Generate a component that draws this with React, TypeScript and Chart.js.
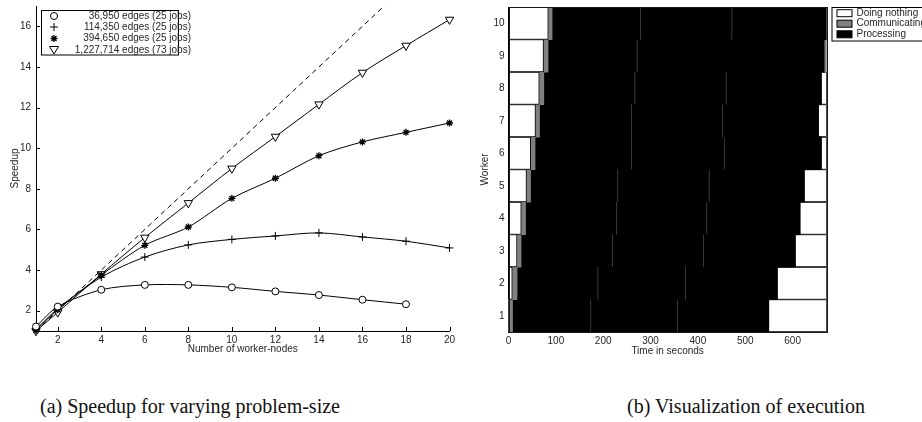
import React, { useEffect, useRef } from 'react';
import { Chart, registerables } from 'chart.js';

Chart.register(...registerables);

// ---------- Panel (a): speedup ----------
const NODES = [1, 2, 4, 6, 8, 10, 12, 14, 16, 18, 20];
const SPEEDUP_36950 = [1.22, 2.2, 3.03, 3.27, 3.27, 3.15, 2.95, 2.77, 2.54, 2.32];
const SPEEDUP_114350 = [1.08, 2.1, 3.65, 4.64, 5.24, 5.51, 5.68, 5.83, 5.63, 5.42, 5.09];
const SPEEDUP_394650 = [1.04, 2.05, 3.75, 5.22, 6.12, 7.53, 8.52, 9.63, 10.31, 10.78, 11.24];
const SPEEDUP_1227714 = [1.0, 1.92, 3.8, 5.6, 7.3, 9.0, 10.57, 12.16, 13.72, 15.05, 16.33];
const SERIES_LABELS = [
  '36,950 edges (25 jobs)',
  '114,350 edges (25 jobs)',
  '394,650 edges (25 jobs)',
  '1,227,714 edges (73 jobs)',
];
const SERIES_MARKERS = ['circle', 'cross', 'star', 'triangleDown'];
const IDEAL_X = [1, 20];
const NODE_TICKS = [2, 4, 6, 8, 10, 12, 14, 16, 18, 20];
const SPEEDUP_TICKS = [2, 4, 6, 8, 10, 12, 14, 16];

// ---------- Panel (b): execution timeline ----------
const WORKERS = ['1', '2', '3', '4', '5', '6', '7', '8', '9', '10'];
const IDLE_END = [0, 8, 18, 27, 38, 47, 57, 65, 74, 84];
const COMM_END = [8, 17.5, 26, 35.5, 46, 55.5, 65, 74, 83, 91.5];
const SYNC_1 = [173, 188, 219, 227, 230, 259, 259, 266, 271, 278];
const SYNC_2 = [356, 373, 411, 418, 423, 455, 451, 459, null, 471];
const PROC_END = [549, 567, 605, 615, 624, 660, 654, 660, 666, 672];
const FINAL_COMM_END = [null, null, null, null, null, null, null, null, 672, null];
const TOTAL_TIME = 672;
const SYNC_WIDTH = 1.5;
const TIME_TICKS = [0, 100, 200, 300, 400, 500, 600];
const STATE_LABELS = ['Doing nothing', 'Communicating', 'Processing'];
const STATE_COLORS = ['#ffffff', '#808080', '#000000'];
const SYNC_COLOR = '#505050';

const FONT = { family: '"Liberation Sans", Arial, sans-serif', size: 10 };
const TEXT_COLOR = '#262626';

function drawMarker(ctx: CanvasRenderingContext2D, style: string, x: number, y: number) {
  ctx.save();
  ctx.strokeStyle = '#000';
  ctx.fillStyle = '#fff';
  ctx.lineWidth = 1;
  ctx.beginPath();
  if (style === 'circle') {
    ctx.arc(x, y, 3.5, 0, Math.PI * 2);
    ctx.fill();
    ctx.stroke();
  } else if (style === 'cross') {
    ctx.moveTo(x - 4, y); ctx.lineTo(x + 4, y);
    ctx.moveTo(x, y - 4); ctx.lineTo(x, y + 4);
    ctx.stroke();
  } else if (style === 'star') {
    const r = 3.5;
    for (let k = 0; k < 4; k++) {
      const a = (k * Math.PI) / 4;
      ctx.moveTo(x - r * Math.cos(a), y - r * Math.sin(a));
      ctx.lineTo(x + r * Math.cos(a), y + r * Math.sin(a));
    }
    ctx.lineWidth = 1.3;
    ctx.stroke();
  } else {
    ctx.moveTo(x - 4.5, y - 3.5);
    ctx.lineTo(x + 4.5, y - 3.5);
    ctx.lineTo(x, y + 4);
    ctx.closePath();
    ctx.fill();
    ctx.stroke();
  }
  ctx.restore();
}

const insideTicksPlugin = {
  id: 'insideTicks',
  afterDatasetsDraw(chart: any) {
    const { ctx, chartArea, scales } = chart;
    ctx.save();
    ctx.strokeStyle = '#000';
    ctx.lineWidth = 1;
    ctx.beginPath();
    for (const v of SPEEDUP_TICKS) {
      const y = Math.round(scales.y.getPixelForValue(v)) + 0.5;
      ctx.moveTo(chartArea.left, y);
      ctx.lineTo(chartArea.left + 4, y);
    }
    for (const v of NODE_TICKS) {
      const x = Math.round(scales.x.getPixelForValue(v)) + 0.5;
      ctx.moveTo(x, chartArea.bottom);
      ctx.lineTo(x, chartArea.bottom - 4);
    }
    ctx.stroke();
    ctx.restore();
  },
};

const legendAPlugin = {
  id: 'legendA',
  afterDraw(chart: any) {
    const { ctx } = chart;
    ctx.save();
    ctx.fillStyle = '#fff';
    ctx.fillRect(41.5, 10.5, 137, 44.5);
    ctx.strokeStyle = '#000';
    ctx.lineWidth = 1;
    ctx.strokeRect(41.5, 10.5, 137, 44.5);
    const rows = [16, 27, 38.5, 50];
    ctx.font = `10px ${FONT.family}`;
    ctx.textAlign = 'right';
    ctx.textBaseline = 'middle';
    SERIES_LABELS.forEach((label, i) => {
      drawMarker(ctx, SERIES_MARKERS[i], 54, rows[i]);
      ctx.fillStyle = TEXT_COLOR;
      ctx.fillText(label, 191, rows[i]);
    });
    ctx.restore();
  },
};

const frameBPlugin = {
  id: 'frameB',
  afterDatasetsDraw(chart: any) {
    const { ctx, chartArea } = chart;
    ctx.save();
    ctx.strokeStyle = '#1a1a1a';
    ctx.lineWidth = 1;
    ctx.strokeRect(
      Math.round(chartArea.left) + 0.5,
      Math.round(chartArea.top) + 0.5,
      Math.round(chartArea.right - chartArea.left),
      Math.round(chartArea.bottom - chartArea.top)
    );
    ctx.restore();
  },
};

const legendBPlugin = {
  id: 'legendB',
  afterDraw(chart: any) {
    const { ctx } = chart;
    ctx.save();
    ctx.fillStyle = '#fff';
    ctx.fillRect(372, 7.5, 120, 33.5);
    ctx.strokeStyle = '#000';
    ctx.lineWidth = 1;
    ctx.strokeRect(372, 7.5, 120, 33.5);
    const rows = [13.2, 23.7, 34.3];
    ctx.font = `10px ${FONT.family}`;
    ctx.textAlign = 'left';
    ctx.textBaseline = 'middle';
    STATE_LABELS.forEach((label, i) => {
      ctx.fillStyle = STATE_COLORS[i];
      ctx.fillRect(377, rows[i] - 3.5, 15, 7);
      ctx.strokeStyle = '#000';
      ctx.strokeRect(377, rows[i] - 3.5, 15, 7);
      ctx.fillStyle = TEXT_COLOR;
      ctx.fillText(label, 396.5, rows[i]);
    });
    ctx.restore();
  },
};

function SpeedupChart() {
  const ref = useRef<HTMLCanvasElement | null>(null);
  useEffect(() => {
    if (!ref.current) return;
    const series = [SPEEDUP_36950, SPEEDUP_114350, SPEEDUP_394650, SPEEDUP_1227714];
    const styleMap: any = {
      circle: { pointStyle: 'circle', radius: 3.5, rotation: 0 },
      cross: { pointStyle: 'cross', radius: 4, rotation: 0 },
      star: { pointStyle: 'star', radius: 3.5, rotation: 0 },
      triangleDown: { pointStyle: 'triangle', radius: 4.8, rotation: 180 },
    };
    const datasets: any[] = [
      {
        label: 'ideal',
        data: IDEAL_X.map((x) => ({ x, y: x })),
        borderColor: '#000',
        borderWidth: 1,
        borderDash: [5, 4],
        pointRadius: 0,
        tension: 0,
      },
      ...series.map((vals, i) => {
        const st = styleMap[SERIES_MARKERS[i]];
        return {
          label: SERIES_LABELS[i],
          data: vals.map((v, j) => ({ x: NODES[j], y: v })),
          borderColor: '#000',
          borderWidth: 1,
          tension: 0.3,
          pointStyle: st.pointStyle,
          pointRadius: st.radius,
          pointRotation: st.rotation,
          pointBackgroundColor: '#fff',
          pointBorderColor: '#000',
          pointBorderWidth: SERIES_MARKERS[i] === 'star' ? 1.3 : 1,
          clip: false,
        };
      }),
    ];
    const chart = new Chart(ref.current, {
      type: 'line',
      data: { datasets },
      plugins: [insideTicksPlugin, legendAPlugin],
      options: {
        responsive: false,
        animation: false,
        devicePixelRatio: 1,
        layout: { padding: { left: 0, top: 6, right: 10.5, bottom: 0 } },
        plugins: { legend: { display: false }, tooltip: { enabled: false } },
        scales: {
          x: {
            type: 'linear',
            min: 1,
            max: 20,
            afterBuildTicks: (ax: any) => { ax.ticks = NODE_TICKS.map((v) => ({ value: v })); },
            afterFit: (ax: any) => { ax.height = 29; ax.paddingLeft = 0; ax.paddingRight = 0; },
            grid: { display: false, drawTicks: false },
            border: { display: true, color: '#000', width: 1 },
            ticks: { font: FONT, color: TEXT_COLOR, padding: 3, maxRotation: 0, autoSkip: false },
            title: { display: true, text: 'Number of worker-nodes', font: FONT, color: TEXT_COLOR, padding: { top: 0, bottom: 5 } },
          },
          y: {
            type: 'linear',
            min: 1,
            max: 17,
            afterBuildTicks: (ax: any) => { ax.ticks = SPEEDUP_TICKS.map((v) => ({ value: v })); },
            afterFit: (ax: any) => { ax.width = 36; ax.paddingTop = 0; ax.paddingBottom = 0; },
            grid: { display: false, drawTicks: false },
            border: { display: true, color: '#000', width: 1 },
            ticks: { font: FONT, color: TEXT_COLOR, padding: 5, autoSkip: false },
            title: { display: true, text: 'Speedup', font: FONT, color: TEXT_COLOR, padding: { top: 9, bottom: 0 } },
          },
        },
      } as any,
    });
    return () => chart.destroy();
  }, []);
  return <canvas ref={ref} width={460} height={360} style={{ width: 460, height: 360, display: 'block' }} />;
}

function ExecutionChart() {
  const ref = useRef<HTMLCanvasElement | null>(null);
  useEffect(() => {
    if (!ref.current) return;
    const base = {
      grouped: false,
      barPercentage: 1,
      categoryPercentage: 1,
      borderSkipped: false,
    };
    const datasets: any[] = [
      {
        ...base,
        label: 'sync1',
        data: SYNC_1.map((s) => (s == null ? null : [s, s + SYNC_WIDTH])),
        backgroundColor: SYNC_COLOR,
        borderWidth: 0,
        inflateAmount: 0,
      },
      {
        ...base,
        label: 'sync2',
        data: SYNC_2.map((s) => (s == null ? null : [s, s + SYNC_WIDTH])),
        backgroundColor: SYNC_COLOR,
        borderWidth: 0,
        inflateAmount: 0,
      },
      {
        ...base,
        label: STATE_LABELS[0],
        data: IDLE_END.map((e) => (e > 0 ? [0, e] : null)),
        backgroundColor: STATE_COLORS[0],
        borderColor: '#000',
        borderWidth: 1,
        inflateAmount: 0.3,
      },
      {
        ...base,
        label: STATE_LABELS[1],
        data: COMM_END.map((e, i) => [IDLE_END[i], e]),
        backgroundColor: STATE_COLORS[1],
        borderWidth: 0,
        inflateAmount: 0.6,
      },
      {
        ...base,
        label: STATE_LABELS[2],
        data: PROC_END.map((e, i) => [COMM_END[i], e]),
        backgroundColor: STATE_COLORS[2],
        borderWidth: 0,
        inflateAmount: 0.6,
      },
      {
        ...base,
        label: 'final comm',
        data: FINAL_COMM_END.map((e, i) => (e == null ? null : [PROC_END[i], e])),
        backgroundColor: STATE_COLORS[1],
        borderWidth: 0,
        inflateAmount: 0.6,
      },
      {
        ...base,
        label: 'final idle',
        data: PROC_END.map((s, i) => (FINAL_COMM_END[i] == null && s < TOTAL_TIME ? [s, TOTAL_TIME] : null)),
        backgroundColor: STATE_COLORS[0],
        borderColor: '#000',
        borderWidth: 1,
        inflateAmount: 0.3,
      },
    ];
    const chart = new Chart(ref.current, {
      type: 'bar',
      data: { labels: WORKERS, datasets },
      plugins: [frameBPlugin, legendBPlugin],
      options: {
        indexAxis: 'y',
        responsive: false,
        animation: false,
        devicePixelRatio: 1,
        layout: { padding: { left: 0, top: 7, right: 95.3, bottom: 0 } },
        plugins: { legend: { display: false }, tooltip: { enabled: false } },
        scales: {
          x: {
            type: 'linear',
            min: 0,
            max: TOTAL_TIME,
            afterBuildTicks: (ax: any) => { ax.ticks = TIME_TICKS.map((v) => ({ value: v })); },
            afterFit: (ax: any) => { ax.height = 28; ax.paddingLeft = 0; ax.paddingRight = 0; },
            grid: { display: false, drawTicks: false },
            border: { display: true, color: '#000', width: 1 },
            ticks: { font: FONT, color: TEXT_COLOR, padding: 3, maxRotation: 0, autoSkip: false },
            title: { display: true, text: 'Time in seconds', font: FONT, color: TEXT_COLOR, padding: { top: 0, bottom: 3 } },
          },
          y: {
            type: 'category',
            reverse: true,
            afterFit: (ax: any) => { ax.width = 48.5; ax.paddingTop = 0; ax.paddingBottom = 0; },
            grid: { display: false, drawTicks: false },
            border: { display: true, color: '#000', width: 1 },
            ticks: { font: FONT, color: TEXT_COLOR, padding: 4, autoSkip: false },
            title: { display: true, text: 'Worker', font: FONT, color: TEXT_COLOR, padding: { top: 19, bottom: 0 } },
          },
        },
      } as any,
    });
    return () => chart.destroy();
  }, []);
  return <canvas ref={ref} width={462} height={360} style={{ width: 462, height: 360, display: 'block' }} />;
}

const captionStyle: React.CSSProperties = {
  position: 'absolute',
  top: 396,
  width: 400,
  textAlign: 'center',
  fontFamily: '"Liberation Serif", "DejaVu Serif", serif',
  fontSize: 20,
  lineHeight: '20px',
  color: '#111',
  whiteSpace: 'nowrap',
};

export default function App() {
  return (
    <div
      style={{
        position: 'absolute',
        left: 0,
        top: 0,
        width: 922,
        height: 422,
        overflow: 'hidden',
        background: '#fff',
      }}
    >
      <div style={{ position: 'absolute', left: 0, top: 0 }}>
        <SpeedupChart />
      </div>
      <div style={{ position: 'absolute', left: 460, top: 0 }}>
        <ExecutionChart />
      </div>
      <div style={{ ...captionStyle, left: -10 }}>(a) Speedup for varying problem-size</div>
      <div style={{ ...captionStyle, left: 546 }}>(b) Visualization of execution</div>
    </div>
  );
}
